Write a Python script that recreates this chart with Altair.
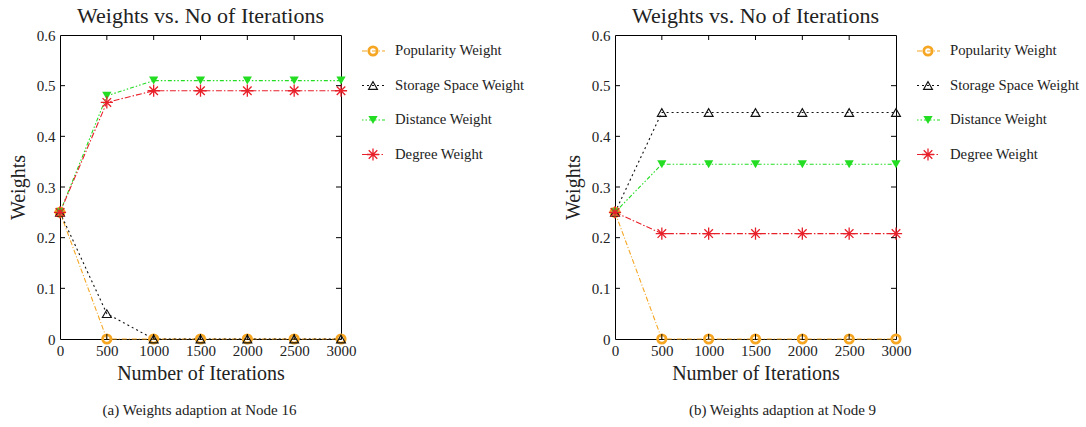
import altair as alt
import pandas as pd

# Iteration counts on the x axis
iterations = [0, 500, 1000, 1500, 2000, 2500, 3000]
series = ["Popularity Weight", "Storage Space Weight", "Distance Weight", "Degree Weight"]

# Node 16
node16_popularity = [0.25, 0.0, 0.0, 0.0, 0.0, 0.0, 0.0]
node16_storage = [0.25, 0.05, 0.0, 0.0, 0.0, 0.0, 0.0]
node16_distance = [0.25, 0.48, 0.51, 0.51, 0.51, 0.51, 0.51]
node16_degree = [0.25, 0.467, 0.49, 0.49, 0.49, 0.49, 0.49]

# Node 9
node9_popularity = [0.25, 0.0, 0.0, 0.0, 0.0, 0.0, 0.0]
node9_storage = [0.25, 0.447, 0.447, 0.447, 0.447, 0.447, 0.447]
node9_distance = [0.25, 0.345, 0.345, 0.345, 0.345, 0.345, 0.345]
node9_degree = [0.25, 0.208, 0.208, 0.208, 0.208, 0.208, 0.208]

x_ticks = [0, 500, 1000, 1500, 2000, 2500, 3000]
y_ticks = [0, 0.1, 0.2, 0.3, 0.4, 0.5, 0.6]
plot_title = "Weights vs. No of Iterations"
x_title = "Number of Iterations"
y_title = "Weights"
captions = ["(a) Weights adaption at Node 16", "(b) Weights adaption at Node 9"]

FONT = "Liberation Serif"
TEXT = "#222222"
W, H = 281, 304
TICK = 5

# legend placement, relative to the plot frame
LEG_LINE = (302, 325)
LEG_SYM = 313
LEG_TEXT = 335
LEG_TOP, LEG_STEP = 16, 34.5

ASTERISK = "M-1,0L1,0M0,-1L0,1M-0.7,-0.7L0.7,0.7M-0.7,0.7L0.7,-0.7"
STYLE = {
    "Popularity Weight": dict(color="#f5a623", dash=[5, 2, 1, 2], shape="circle",
                              filled=False, sw=2.8, size=70),
    "Storage Space Weight": dict(color="#111111", dash=[2, 3], shape="triangle-up",
                                 filled=False, sw=1.1, size=80),
    "Distance Weight": dict(color="#22dd22", dash=[1.5, 2, 1.5, 2, 4, 2], shape="triangle-down",
                            filled=True, sw=1.0, size=85),
    "Degree Weight": dict(color="#e8202a", dash=[6, 2, 1.5, 2], shape=ASTERISK,
                          filled=False, sw=1.3, size=150),
}


def long_frame(values):
    rows = []
    for name, vals in zip(series, values):
        for it, v in zip(iterations, vals):
            rows.append({"Series": name, "Iterations": it, "Weight": v})
    return pd.DataFrame(rows)


def point_style(st):
    pt = dict(shape=st["shape"], size=st["size"], strokeWidth=st["sw"],
              filled=st["filled"], opacity=1)
    if st["filled"]:
        pt["color"] = st["color"]
    else:
        pt["stroke"] = st["color"]
        pt["fill"] = "transparent"
    return pt


def panel(values, caption, caption_shift):
    df = long_frame(values)
    x = alt.X("Iterations:Q",
              scale=alt.Scale(domain=[0, 3000], nice=False),
              axis=alt.Axis(values=x_ticks, format="d", title=x_title, ticks=False,
                            domain=False, grid=False, labelFlush=False,
                            labelPadding=4, titlePadding=5))
    y = alt.Y("Weight:Q",
              scale=alt.Scale(domain=[0, 0.6], nice=False),
              axis=alt.Axis(values=y_ticks, format="~g", title=y_title, ticks=False,
                            domain=False, grid=False, labelFlush=False,
                            labelPadding=5, titlePadding=8))
    layers = []
    for name in series:
        st = STYLE[name]
        sub = alt.Chart(df).transform_filter(alt.datum.Series == name)
        layers.append(sub.mark_line(color=st["color"], strokeDash=st["dash"],
                                    strokeWidth=1.1).encode(x=x, y=y))
    for name in series:
        sub = alt.Chart(df).transform_filter(alt.datum.Series == name)
        layers.append(sub.mark_point(**point_style(STYLE[name])).encode(x=x, y=y))

    # inward tick marks on all four sides of the frame
    xin = pd.DataFrame({"Iterations": x_ticks[1:-1]})
    yin = pd.DataFrame({"Weight": y_ticks[1:-1]})
    tk = dict(color="black", strokeWidth=1)
    layers.append(alt.Chart(xin).mark_rule(**tk).encode(
        x="Iterations:Q", y=alt.value(H), y2=alt.value(H - TICK)))
    layers.append(alt.Chart(xin).mark_rule(**tk).encode(
        x="Iterations:Q", y=alt.value(0), y2=alt.value(TICK)))
    layers.append(alt.Chart(yin).mark_rule(**tk).encode(
        y="Weight:Q", x=alt.value(0), x2=alt.value(TICK)))
    layers.append(alt.Chart(yin).mark_rule(**tk).encode(
        y="Weight:Q", x=alt.value(W), x2=alt.value(W - TICK)))

    # key to the right of the frame: line sample, marker and series name
    leg = pd.DataFrame({"Series": series})
    for i, name in enumerate(series):
        st = STYLE[name]
        row_y = alt.value(LEG_TOP + i * LEG_STEP)
        sub = alt.Chart(leg).transform_filter(alt.datum.Series == name)
        layers.append(sub.mark_rule(color=st["color"], strokeDash=st["dash"],
                                    strokeWidth=1.1).encode(
            x=alt.value(LEG_LINE[0]), x2=alt.value(LEG_LINE[1]), y=row_y))
        layers.append(sub.mark_point(**point_style(st)).encode(
            x=alt.value(LEG_SYM), y=row_y))
        layers.append(sub.mark_text(align="left", baseline="middle", font=FONT,
                                    fontSize=14.7, color=TEXT).encode(
            x=alt.value(LEG_TEXT), y=row_y, text="Series:N"))

    # sub-figure caption below the axis title
    cap = pd.DataFrame({"Caption": [caption]})
    layers.append(alt.Chart(cap).mark_text(align="center", baseline="middle", font=FONT,
                                           fontSize=15, color=TEXT).encode(
        x=alt.value(W / 2 + caption_shift), y=alt.value(H + 71), text="Caption:N"))

    return alt.layer(*layers).properties(
        width=W, height=H,
        title=alt.TitleParams(plot_title, font=FONT, fontSize=22, fontWeight="normal",
                              color=TEXT, offset=0),
    )


panel_a = panel([node16_popularity, node16_storage, node16_distance, node16_degree],
                captions[0], -1)
panel_b = panel([node9_popularity, node9_storage, node9_distance, node9_degree],
                captions[1], 27)

chart = alt.hconcat(panel_a, panel_b, spacing=274, bounds="flush").properties(
    padding={"left": 7, "top": 4, "right": 0, "bottom": 0}
).configure_view(stroke="black", strokeWidth=1).configure_axis(
    labelFont=FONT, labelFontSize=15, labelColor=TEXT,
    titleFont=FONT, titleFontSize=20, titleFontWeight="normal", titleColor=TEXT,
)

chart.save("out.html", embed_options={"renderer": "svg", "actions": False})
